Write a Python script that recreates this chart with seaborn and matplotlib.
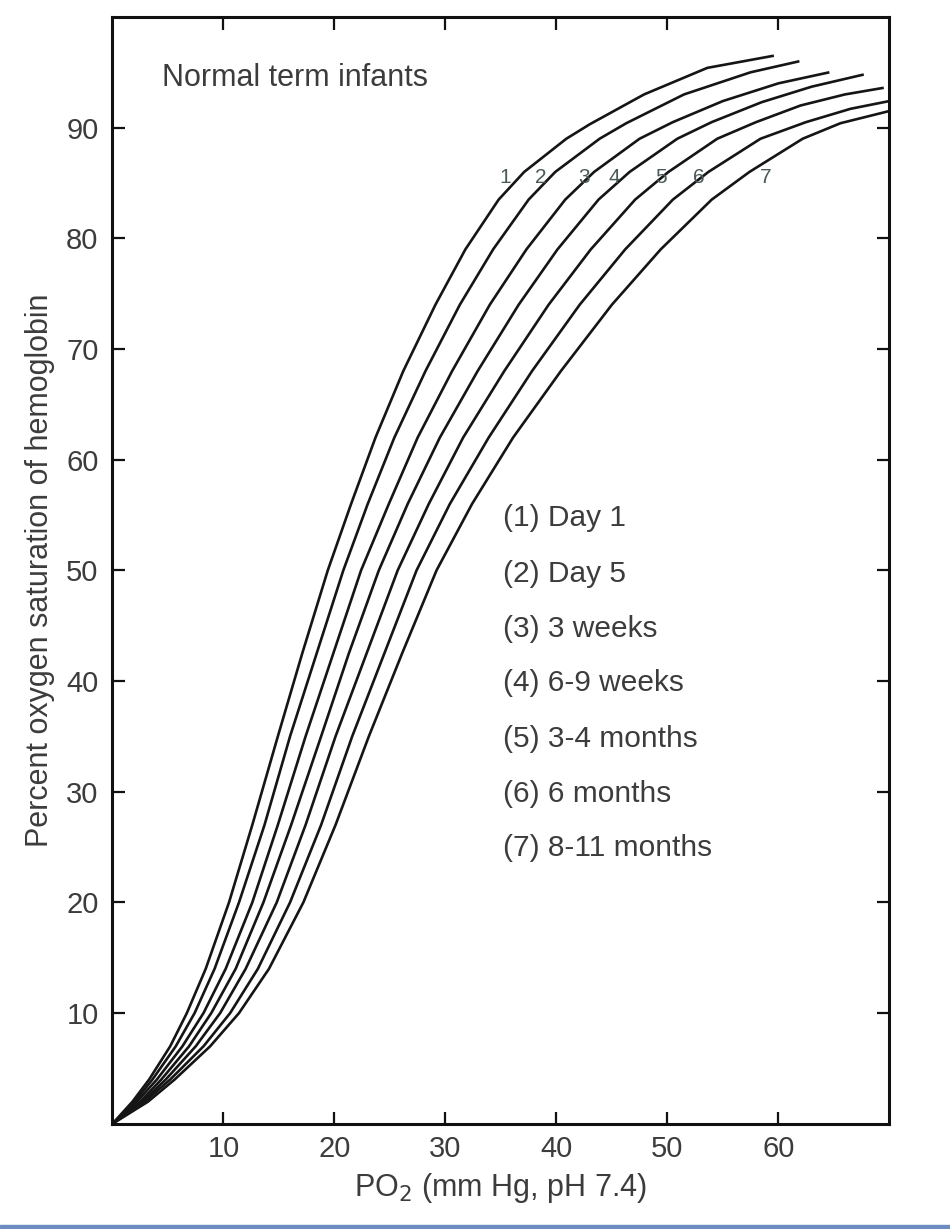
import pandas as pd
import matplotlib.pyplot as plt
import matplotlib.patches as mpatches
import seaborn as sns

# Oxygen dissociation curves (PO2 in mm Hg, saturation in %)
stages = ['(1) Day 1', '(2) Day 5', '(3) 3 weeks', '(4) 6-9 weeks',
          '(5) 3-4 months', '(6) 6 months', '(7) 8-11 months']
curve_ids = ['1', '2', '3', '4', '5', '6', '7']

# shared saturation levels for the lower/middle part of every curve
sat_levels = [0, 2, 4, 7, 10, 14, 20, 27, 35, 42.5, 50, 56, 62, 68, 74, 79, 83.5, 86, 89]

po2_c1 = [0, 1.8, 3.3, 5.2, 6.7, 8.4, 10.5, 12.6, 14.9, 17.1, 19.4, 21.5, 23.7, 26.2, 29.1, 31.8, 34.8, 37.1, 40.9]
po2_c2 = [0, 2.0, 3.6, 5.7, 7.4, 9.2, 11.4, 13.7, 16.0, 18.4, 20.8, 23.0, 25.4, 28.2, 31.3, 34.3, 37.5, 39.9, 43.9]
po2_c3 = [0, 2.2, 4.0, 6.3, 8.2, 10.2, 12.6, 14.9, 17.4, 19.9, 22.4, 24.9, 27.5, 30.6, 34.0, 37.3, 40.8, 43.4, 47.5]
po2_c4 = [0, 2.5, 4.4, 6.9, 8.9, 11.1, 13.6, 16.1, 18.8, 21.3, 24.0, 26.6, 29.5, 32.9, 36.6, 40.1, 43.8, 46.6, 50.9]
po2_c5 = [0, 2.7, 4.8, 7.5, 9.7, 12.0, 14.8, 17.4, 20.1, 22.9, 25.7, 28.5, 31.6, 35.3, 39.3, 43.1, 47.1, 50.1, 54.5]
po2_c6 = [0, 2.9, 5.2, 8.2, 10.6, 13.1, 16.0, 18.8, 21.6, 24.5, 27.4, 30.4, 33.9, 37.8, 42.1, 46.2, 50.5, 53.7, 58.4]
po2_c7 = [0, 3.2, 5.6, 8.8, 11.4, 14.1, 17.2, 20.1, 23.1, 26.1, 29.2, 32.4, 36.1, 40.4, 45.0, 49.4, 54.0, 57.4, 62.2]

# flattening upper ends of each curve
top_po2 = [[43.0, 47.9, 53.6, 59.6],
           [46.3, 51.5, 57.5, 61.9],
           [50.5, 55.0, 60.0, 64.6],
           [54.0, 58.5, 63.0, 67.7],
           [58.0, 62.0, 66.0, 69.5],
           [62.5, 66.5, 70.0],
           [65.6, 70.0]]
top_sat = [[90.3, 93.0, 95.4, 96.5],
           [90.4, 93.0, 95.0, 96.0],
           [90.5, 92.4, 94.0, 95.0],
           [90.5, 92.3, 93.7, 94.8],
           [90.5, 92.0, 93.0, 93.6],
           [90.5, 91.7, 92.4],
           [90.4, 91.5]]

label_x = [35.4, 38.6, 42.5, 45.2, 49.4, 52.8, 58.9]
label_y = 85.5

rows = []
for i, low in enumerate([po2_c1, po2_c2, po2_c3, po2_c4, po2_c5, po2_c6, po2_c7]):
    xs = low + top_po2[i]
    ys = sat_levels + top_sat[i]
    for order, (x, y) in enumerate(zip(xs, ys)):
        rows.append({'stage': stages[i], 'order': order, 'po2': x, 'sat': y})
df = pd.DataFrame(rows)

sns.set_theme(style='ticks')
plt.rcParams['font.family'] = ['Liberation Sans', 'DejaVu Sans']
text_col = '#3c3c3c'

fig = plt.figure(figsize=(9.5, 12.29), dpi=100)
ax = fig.add_axes([0.1184, 0.0856, 0.8177, 0.9006])

sns.lineplot(data=df, x='po2', y='sat', hue='stage', units='stage', estimator=None,
             sort=False, palette=['#151515'] * 7, linewidth=1.9, legend=False, ax=ax,
             solid_joinstyle='round', solid_capstyle='butt')

ax.set_xlim(0, 70)
ax.set_ylim(0, 100)
ax.set_xticks(range(10, 70, 10))
ax.set_yticks(range(10, 100, 10))
ax.tick_params(direction='in', length=9, width=1.6, colors='#111111',
               top=True, right=True, labelsize=21, labelcolor=text_col)
ax.tick_params(axis='x', pad=8)
ax.tick_params(axis='y', pad=10)
for s in ax.spines.values():
    s.set_linewidth(2.2)
    s.set_color('#111111')

ax.set_xlabel('PO$_2$ (mm Hg, pH 7.4)', fontsize=22, color=text_col, labelpad=6)
ax.set_ylabel('Percent oxygen saturation of hemoglobin', fontsize=22, color=text_col, labelpad=8)

ax.text(4.5, 94.5, 'Normal term infants', fontsize=22, color=text_col, va='center', ha='left')

for cid, lx in zip(curve_ids, label_x):
    ax.text(lx, label_y, cid, fontsize=15, color='#4a5a58', ha='center', va='center')

legend_y = [54.7, 49.7, 44.7, 39.8, 34.8, 29.8, 24.9]
for name, ly in zip(stages, legend_y):
    ax.text(35.2, ly, name, fontsize=21.5, color=text_col, ha='left', va='center')

# thin blue frame edge along the bottom of the screenshot
fig.patches.append(mpatches.Rectangle((0, 0), 1, 0.003, transform=fig.transFigure,
                                      color='#6d8dc0', zorder=5))

fig.savefig('out.png', dpi=100)
